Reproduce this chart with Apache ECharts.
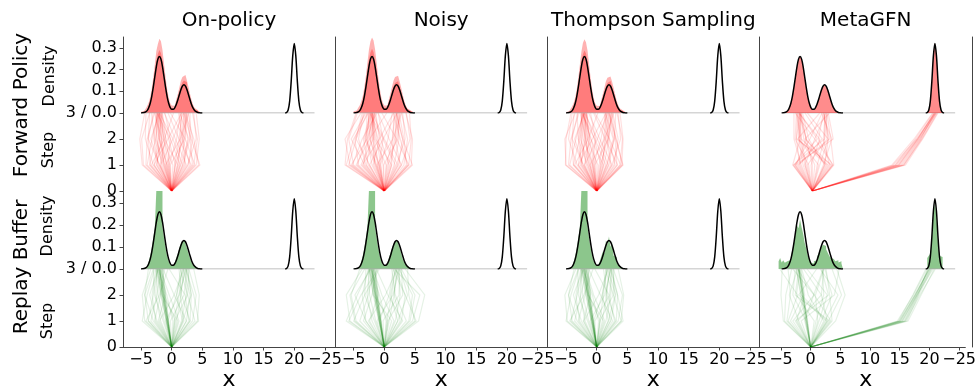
<!DOCTYPE html>
<html>
<head>
<meta charset="utf-8">
<script src="https://cdn.jsdelivr.net/npm/echarts@6/dist/echarts.min.js"></script>
<style>
  html, body { margin: 0; padding: 0; background: #fff; }
  #chart { width: 979px; height: 390px; }
</style>
</head>
<body>
<div id="chart"></div>
<script>
// ---- data ----
const methods = ["On-policy", "Noisy", "Thompson Sampling", "MetaGFN"];
const rowNames = ["Forward Policy", "Replay Buffer"];
const steps = [0, 1, 2, 3];
const startX = 0;
const xTicks = [-5, 0, 5, 10, 15, 20, 25];
const densityTicks = [0, 0.1, 0.2, 0.3];
const stepTicks = [0, 1, 2];

// target density (black curve), left modes
const gridX = [-5, -4.75, -4.5, -4.25, -4, -3.75, -3.5, -3.25, -3, -2.75, -2.5, -2.25, -2, -1.75, -1.5, -1.25, -1, -0.75, -0.5, -0.25,
  0, 0.25, 0.5, 0.75, 1, 1.25, 1.5, 1.75, 2, 2.25, 2.5, 2.75, 3, 3.25, 3.5, 3.75, 4, 4.25, 4.5, 4.75, 5];
const curveY = [0.000, 0.001, 0.002, 0.005, 0.011, 0.024, 0.045, 0.077, 0.119, 0.167, 0.214, 0.248, 0.260, 0.248, 0.214, 0.167, 0.119, 0.077, 0.046, 0.026,
  0.017, 0.017, 0.024, 0.039, 0.060, 0.084, 0.107, 0.124, 0.130, 0.124, 0.107, 0.084, 0.060, 0.038, 0.022, 0.012, 0.006, 0.0025, 0.001, 0.0004, 0.0001];
// target density, right mode
const peakX = [18.5, 18.75, 19, 19.25, 19.5, 19.75, 20, 20.25, 20.5, 20.75, 21, 21.25, 21.5];
const peakY = [0.0003, 0.0024, 0.014, 0.055, 0.147, 0.263, 0.32, 0.263, 0.147, 0.055, 0.014, 0.0024, 0.0003];
const baseX = [-5, 23.3];

// forward-policy sample histograms (bins of 0.25 starting at gridX), core and upper envelope
const onPolicyCore = [0.003, 0.004, 0.007, 0.011, 0.019, 0.032, 0.055, 0.088, 0.135, 0.186, 0.238, 0.272, 0.29, 0.276, 0.24, 0.186, 0.134, 0.09, 0.054, 0.033,
  0.023, 0.023, 0.031, 0.047, 0.07, 0.096, 0.121, 0.14, 0.15, 0.142, 0.122, 0.096, 0.07, 0.046, 0.028, 0.017, 0.01, 0.005, 0.003, 0.001, 0];
const onPolicyEnv = [0.006, 0.009, 0.013, 0.02, 0.032, 0.048, 0.074, 0.112, 0.165, 0.225, 0.285, 0.318, 0.342, 0.33, 0.29, 0.228, 0.166, 0.112, 0.072, 0.046,
  0.034, 0.033, 0.042, 0.062, 0.088, 0.118, 0.148, 0.166, 0.175, 0.168, 0.148, 0.12, 0.088, 0.06, 0.038, 0.023, 0.014, 0.008, 0.004, 0.002, 0];
const noisyCore = [0.004, 0.006, 0.009, 0.014, 0.022, 0.036, 0.058, 0.092, 0.14, 0.19, 0.244, 0.28, 0.296, 0.28, 0.242, 0.19, 0.138, 0.09, 0.056, 0.034,
  0.024, 0.024, 0.032, 0.048, 0.07, 0.096, 0.12, 0.138, 0.146, 0.138, 0.12, 0.094, 0.068, 0.045, 0.028, 0.017, 0.01, 0.006, 0.003, 0.001, 0];
const noisyEnv = [0.008, 0.011, 0.016, 0.024, 0.036, 0.054, 0.08, 0.12, 0.172, 0.232, 0.292, 0.33, 0.348, 0.334, 0.292, 0.232, 0.17, 0.116, 0.075, 0.048,
  0.035, 0.034, 0.043, 0.063, 0.09, 0.12, 0.148, 0.166, 0.172, 0.164, 0.146, 0.118, 0.086, 0.058, 0.036, 0.022, 0.013, 0.008, 0.004, 0.002, 0];
const thompsonCore = [0.002, 0.003, 0.006, 0.01, 0.018, 0.031, 0.054, 0.086, 0.132, 0.184, 0.236, 0.27, 0.288, 0.274, 0.238, 0.184, 0.132, 0.088, 0.053, 0.032,
  0.022, 0.022, 0.03, 0.046, 0.069, 0.095, 0.12, 0.138, 0.147, 0.14, 0.12, 0.095, 0.069, 0.045, 0.027, 0.016, 0.009, 0.005, 0.002, 0.001, 0];
const thompsonEnv = [0.005, 0.008, 0.012, 0.019, 0.031, 0.047, 0.073, 0.11, 0.163, 0.222, 0.282, 0.322, 0.34, 0.326, 0.288, 0.226, 0.164, 0.11, 0.07, 0.045,
  0.033, 0.032, 0.041, 0.061, 0.087, 0.116, 0.146, 0.162, 0.168, 0.162, 0.145, 0.118, 0.086, 0.058, 0.037, 0.022, 0.013, 0.007, 0.004, 0.002, 0];

// replay buffer histograms (same bins)
const onPolicyReplay = [0.001, 0.002, 0.004, 0.008, 0.017, 0.034, 0.06, 0.097, 0.142, 0.19, 0.36, 0.36, 0.36, 0.36, 0.19, 0.142, 0.097, 0.06, 0.035, 0.02,
  0.016, 0.02, 0.03, 0.05, 0.072, 0.096, 0.115, 0.127, 0.127, 0.115, 0.095, 0.07, 0.048, 0.029, 0.017, 0.009, 0.004, 0.002, 0.001, 0, 0];
const noisyReplay = [0.001, 0.002, 0.004, 0.009, 0.018, 0.034, 0.06, 0.096, 0.14, 0.19, 0.36, 0.36, 0.36, 0.36, 0.19, 0.14, 0.096, 0.06, 0.036, 0.021,
  0.016, 0.02, 0.03, 0.05, 0.072, 0.095, 0.114, 0.126, 0.128, 0.116, 0.096, 0.07, 0.047, 0.029, 0.017, 0.009, 0.004, 0.002, 0.001, 0, 0];
const thompsonReplay = [0.001, 0.002, 0.004, 0.008, 0.017, 0.034, 0.06, 0.097, 0.142, 0.19, 0.36, 0.36, 0.36, 0.36, 0.19, 0.142, 0.097, 0.06, 0.035, 0.02,
  0.016, 0.024, 0.036, 0.058, 0.08, 0.07, 0.13, 0.112, 0.148, 0.1, 0.124, 0.06, 0.055, 0.028, 0.018, 0.009, 0.004, 0.002, 0.001, 0, 0];
const metaReplayX = [-5.5, -5.25, -5, -4.75, -4.5, -4.25, -4, -3.75, -3.5, -3.25, -3, -2.75, -2.5, -2.25, -2, -1.75, -1.5, -1.25, -1, -0.75, -0.5, -0.25,
  0, 0.25, 0.5, 0.75, 1, 1.25, 1.5, 1.75, 2, 2.25, 2.5, 2.75, 3, 3.25, 3.5, 3.75, 4, 4.25, 4.5, 4.75, 5];
const metaReplayY = [0.035, 0.05, 0.03, 0.04, 0.028, 0.036, 0.045, 0.04, 0.06, 0.09, 0.12, 0.16, 0.2, 0.185, 0.225, 0.19, 0.16, 0.12, 0.095, 0.06, 0.045, 0.03,
  0.025, 0.035, 0.04, 0.055, 0.07, 0.09, 0.1, 0.11, 0.105, 0.09, 0.075, 0.06, 0.05, 0.045, 0.04, 0.035, 0.04, 0.03, 0.035, 0.025, 0];
const metaReplayRX = [18.75, 19, 19.25, 19.5, 19.75, 20, 20.25, 20.5, 20.75, 21, 21.25];
const metaReplayRY = [0.05, 0.06, 0.07, 0.14, 0.26, 0.3, 0.24, 0.12, 0.06, 0.055, 0];

// trajectories: x at steps 1, 2, 3 (all start at x = 0, step 0)
const onPolicyFwd = [
  [-0.8, -1.6, -2.0], [-1.2, -2.0, -2.3], [-0.5, -1.3, -1.8], [-1.6, -2.4, -2.6], [-2.2, -2.9, -2.4], [-2.8, -2.2, -1.9],
  [-3.5, -3.8, -3.0], [-4.6, -4.9, -3.6], [-4.0, -3.2, -2.2], [-3.0, -4.3, -4.2], [-1.9, -1.0, -1.5], [-0.3, -0.9, -2.1],
  [0.6, -0.5, -1.7], [1.4, -0.2, -2.4], [2.4, 0.6, -1.2], [3.2, 1.2, -0.6], [-1.4, -2.8, -3.3], [-2.5, -1.6, -2.8],
  [0.9, 1.6, 2.0], [0.5, 1.2, 1.7], [1.3, 2.2, 2.3], [2.0, 2.6, 1.9], [2.7, 3.4, 2.7], [3.6, 4.2, 3.4],
  [4.4, 3.6, 2.2], [-0.4, 0.8, 1.4], [-1.8, 0.2, 1.9], [1.8, 3.0, 3.0], [3.0, 1.8, 1.1], [-0.2, 2.1, 2.6],
  [-3.3, -1.2, 0.3], [4.0, 4.5, 4.0], [-2.0, -3.4, -2.0], [1.0, -1.2, -2.2],
  [-0.9, -1.9, -2.2], [-1.3, -1.7, -1.9], [-0.7, -2.1, -2.5], [-2.4, -2.0, -1.6], [-1.1, -2.6, -2.0], [-3.6, -2.6, -2.3],
  [-4.2, -4.0, -2.8], [-2.0, -3.8, -3.6], [0.2, -1.4, -1.6], [1.8, 0.2, -2.0], [-0.6, -0.2, -1.1], [3.8, 2.2, -0.2],
  [0.6, 1.9, 2.4], [1.1, 1.4, 1.6], [2.2, 1.8, 2.1], [3.4, 3.0, 2.4], [-1.0, 1.4, 2.8], [2.6, 4.0, 3.6],
  [-2.9, -0.6, 1.6], [4.6, 3.2, 2.0], [1.5, 2.8, 1.3], [-4.8, -5.2, -4.4]
];
const noisyFwd = [
  [-0.9, -1.7, -2.0], [-1.4, -2.2, -2.3], [-0.6, -1.2, -1.9], [-2.0, -2.8, -2.5], [-2.6, -3.4, -2.2], [-3.4, -2.6, -1.8],
  [-4.2, -4.8, -3.2], [-5.6, -6.4, -3.8], [-6.2, -5.0, -2.6], [-5.0, -5.8, -4.4], [-3.0, -4.2, -3.4], [-1.8, -0.8, -1.4],
  [-0.2, -1.0, -2.2], [0.8, -0.6, -1.6], [1.8, -0.2, -2.4], [2.8, 0.8, -1.0], [-1.2, -3.0, -2.8], [-3.8, -1.8, -2.0],
  [1.0, 1.7, 2.0], [0.4, 1.3, 1.8], [1.6, 2.4, 2.2], [2.3, 3.0, 1.9], [3.2, 3.8, 2.8], [4.4, 4.6, 3.5],
  [3.8, 2.6, 1.5], [-0.6, 0.6, 1.3], [-2.4, -0.2, 2.1], [2.0, 3.4, 3.0], [-4.6, -2.4, 0.4], [-0.1, 2.2, 2.6],
  [-5.2, -3.6, -1.2], [4.0, 4.4, 4.1], [1.2, -1.4, -2.1], [-3.2, -5.4, -3.0],
  [-1.0, -1.9, -2.2], [-1.6, -1.8, -1.9], [-0.8, -2.4, -2.6], [-2.9, -2.2, -1.6], [-1.4, -3.2, -2.0], [-4.4, -3.0, -2.4],
  [-5.8, -4.6, -2.8], [-2.4, -4.6, -3.6], [0.3, -1.6, -1.7], [2.2, 0.0, -2.0], [-0.8, -0.2, -1.0], [4.0, 2.0, -0.4],
  [0.6, 2.0, 2.4], [1.2, 1.4, 1.6], [2.6, 1.8, 2.1], [3.6, 3.2, 2.4], [-1.2, 1.4, 2.8], [2.8, 4.2, 3.6],
  [-3.6, -0.8, 1.5], [4.6, 3.0, 2.0], [-6.4, -6.0, -4.6], [-5.4, -2.8, -1.5]
];
const thompsonFwd = [
  [-0.7, -1.5, -2.0], [-1.1, -1.9, -2.2], [-0.4, -1.2, -1.7], [-1.7, -2.5, -2.5], [-2.4, -3.0, -2.3], [-3.0, -2.4, -1.9],
  [-3.8, -4.0, -3.1], [-5.0, -5.2, -3.5], [-4.4, -3.4, -2.1], [-3.2, -4.6, -4.0], [-2.0, -1.2, -1.6], [-0.1, -0.9, -2.2],
  [0.7, -0.4, -1.8], [1.5, -0.3, -2.5], [2.5, 0.5, -1.3], [3.4, 1.4, -0.5], [-1.5, -3.0, -3.2], [-2.7, -1.8, -2.7],
  [0.8, 1.5, 1.9], [0.4, 1.1, 1.6], [1.2, 2.0, 2.4], [2.0, 2.8, 2.0], [2.8, 3.5, 2.6], [3.8, 4.2, 3.3],
  [4.2, 3.2, 2.1], [-0.5, 0.7, 1.5], [-2.0, 0.1, 1.8], [1.7, 2.9, 3.1], [3.0, 2.0, 1.2], [-0.3, 1.9, 2.5],
  [-3.6, -1.4, 0.2], [4.1, 4.3, 3.8], [-2.2, -3.6, -2.0], [1.1, -1.0, -2.3],
  [-0.9, -1.8, -2.1], [-1.4, -1.7, -1.9], [-0.6, -2.2, -2.4], [-2.5, -2.0, -1.7], [-1.2, -2.7, -2.1], [-3.8, -2.8, -2.4],
  [-4.6, -4.2, -2.9], [-2.2, -4.0, -3.7], [0.2, -1.5, -1.6], [1.9, 0.1, -2.0], [-0.7, -0.2, -1.0], [3.9, 2.1, -0.3],
  [0.6, 1.8, 2.3], [1.0, 1.3, 1.7], [2.3, 1.7, 2.0], [3.3, 3.0, 2.5], [-1.1, 1.3, 2.8], [2.5, 3.9, 3.5],
  [-3.0, -0.7, 1.5], [4.3, 3.1, 2.0], [1.6, 2.7, 1.4], [-5.1, -5.0, -4.2]
];
const metaFwd = [
  [-1.0, -1.8, -2.0], [-1.5, -2.2, -2.3], [-2.6, -1.0, -1.8], [-3.0, 0.8, -2.1], [2.6, -1.8, -2.4], [3.2, -2.6, -2.0],
  [2.0, -0.6, -1.6], [-0.6, -2.8, -2.6], [-2.2, 1.6, -1.2], [1.2, 2.6, -0.8], [3.4, 0.4, -2.8], [-1.8, -3.0, -3.0],
  [0.4, -1.4, -1.9], [-3.2, -2.0, -2.6], [2.8, 1.8, 2.1], [3.5, 3.0, 2.4], [-2.4, 2.8, 1.8], [-1.2, 0.4, 2.2],
  [0.8, 2.0, 2.0], [1.8, 3.2, 1.5], [-2.8, 3.4, 2.6], [2.4, -2.4, 1.2], [3.0, -1.2, 2.8], [-0.2, 1.2, -2.2],
  [-1.2, -2.0, -2.1], [2.2, -1.0, -2.2], [-2.8, -0.4, 1.6], [1.0, -2.2, -1.8], [-0.8, 2.4, 2.3], [3.3, 1.0, 1.8],
  [-2.0, -2.6, -2.4], [0.0, -1.0, -2.0], [2.0, 2.6, 1.9], [-3.1, 2.0, 2.4],
  [13.2, 17.0, 20.0], [13.8, 17.2, 19.8], [14.2, 17.4, 20.2], [14.6, 17.6, 20.1], [15.0, 17.8, 20.3],
  [13.5, 16.8, 19.7], [14.9, 17.9, 20.4], [14.0, 17.3, 19.9], [13.6, 17.1, 20.0], [14.4, 17.5, 20.2],
  [14.8, 17.7, 19.9], [13.0, 16.6, 19.6], [15.2, 18.0, 20.5], [14.1, 17.2, 20.1]
];
const onPolicyBuf = [
  [-0.7, -1.3, -2.0], [-0.6, -1.4, -2.0], [-0.7, -1.4, -2.1], [-0.8, -1.5, -1.9], [-0.6, -1.3, -1.9], [-0.8, -1.4, -2.1],
  [-0.5, -1.2, -1.8], [-0.9, -1.6, -2.2], [-1.8, -2.6, -2.4], [-2.6, -3.2, -2.6], [-3.4, -2.4, -1.7], [-4.4, -4.8, -3.4],
  [-3.8, -3.0, -2.3], [-2.2, -1.0, -1.5], [0.2, -0.8, -2.2], [1.2, -0.4, -1.9], [2.4, 0.4, -1.4], [-1.4, -2.8, -3.0],
  [0.8, 1.5, 2.0], [0.4, 1.2, 1.7], [1.6, 2.4, 2.3], [2.4, 3.0, 1.9], [3.4, 4.0, 2.8], [4.4, 3.6, 2.3],
  [-0.6, 0.8, 1.5], [-2.0, 0.4, 2.0], [1.8, 3.2, 2.6], [3.0, 1.6, 1.2], [-0.2, 2.0, 2.5], [-4.8, -4.0, -2.8],
  [4.2, 4.5, 3.6], [1.0, -1.6, -2.4], [-3.0, -4.4, -3.8], [2.8, 2.2, -0.4],
  [-0.6, -1.2, -1.6], [-0.9, -1.8, -2.5], [-0.8, -1.7, -2.4], [-0.5, -1.0, -1.5], [-0.7, -1.5, -2.3], [-0.6, -1.1, -1.7],
  [-1.2, -2.2, -2.6], [-2.8, -1.8, -1.2], [-3.8, -4.4, -3.0], [0.6, -1.2, -2.0], [1.8, 0.8, 1.8], [2.0, 1.4, 2.2],
  [3.0, 3.2, 2.4], [-1.0, 1.2, 2.4], [-4.2, -2.0, -0.6], [3.8, 2.6, 1.4], [0.5, 2.6, 2.8], [-2.4, -3.6, -2.2]
];
const noisyBuf = [
  [-0.7, -1.3, -2.0], [-0.6, -1.4, -2.0], [-0.8, -1.5, -2.1], [-0.6, -1.2, -1.9], [-0.8, -1.4, -1.9], [-0.7, -1.5, -2.2],
  [-0.5, -1.3, -1.8], [-0.9, -1.6, -2.1], [-2.0, -2.8, -2.4], [-3.0, -3.6, -2.6], [-4.0, -2.6, -1.7], [-5.6, -6.2, -3.6],
  [-6.2, -4.4, -2.4], [-4.6, -5.4, -4.0], [-2.4, -1.0, -1.5], [0.3, -0.8, -2.2], [1.6, -0.4, -1.8], [3.0, 0.6, -1.3],
  [-1.6, -3.2, -3.0], [0.8, 1.6, 2.0], [0.4, 1.2, 1.8], [1.8, 2.6, 2.3], [2.8, 3.4, 1.9], [4.2, 5.0, 2.8],
  [5.6, 6.6, 3.4], [-0.8, 0.8, 1.5], [-2.6, 0.2, 2.1], [2.2, 3.8, 2.6], [3.6, 1.8, 1.2], [-0.2, 2.4, 2.5],
  [-5.0, -3.2, -0.8], [5.0, 4.0, 3.8], [1.2, -1.8, -2.4], [4.6, 5.8, 1.6],
  [-0.6, -1.2, -1.6], [-0.9, -1.8, -2.5], [-0.8, -1.7, -2.4], [-0.5, -1.0, -1.5], [-0.7, -1.5, -2.3], [-0.6, -1.1, -1.7],
  [-1.4, -2.4, -2.6], [-3.4, -2.0, -1.2], [-4.8, -5.6, -3.2], [0.6, -1.4, -2.0], [2.2, 1.0, 1.8], [2.6, 1.6, 2.2],
  [4.0, 4.6, 2.4], [-1.2, 1.4, 2.4], [-5.8, -3.8, -1.0], [5.2, 3.4, 1.4], [0.6, 3.0, 2.8], [-3.0, -4.8, -2.2]
];
const thompsonBuf = [
  [-0.7, -1.3, -2.0], [-0.6, -1.4, -2.0], [-0.8, -1.5, -2.1], [-0.6, -1.2, -1.9], [-0.8, -1.4, -1.9], [-0.7, -1.5, -2.2],
  [-0.5, -1.3, -1.8], [-0.9, -1.6, -2.1], [-1.9, -2.7, -2.5], [-2.8, -3.4, -2.6], [-3.6, -2.6, -1.6], [-4.8, -5.2, -3.4],
  [-4.2, -3.2, -2.2], [-2.2, -1.0, -1.4], [0.3, -0.7, -2.3], [1.3, -0.5, -1.8], [2.6, 0.6, -1.3], [-1.5, -3.0, -3.1],
  [0.9, 1.6, 2.1], [0.5, 1.1, 1.6], [1.5, 2.3, 2.4], [2.3, 3.1, 1.8], [3.5, 4.2, 2.7], [4.3, 3.4, 2.2],
  [-0.5, 0.9, 1.6], [-2.1, 0.3, 1.9], [1.9, 3.0, 2.6], [3.1, 1.7, 1.1], [-0.3, 2.1, 2.4], [-5.0, -4.2, -2.9],
  [4.0, 4.4, 3.5], [1.1, -1.4, -2.5], [-3.2, -4.6, -3.7], [2.9, 2.0, -0.3],
  [-0.6, -1.2, -1.6], [-0.9, -1.8, -2.5], [-0.8, -1.7, -2.4], [-0.5, -1.0, -1.5], [-0.7, -1.5, -2.3], [-0.6, -1.1, -1.7],
  [-1.3, -2.3, -2.6], [-3.0, -1.9, -1.2], [-4.0, -4.6, -3.0], [0.6, -1.3, -2.0], [1.9, 0.9, 1.8], [2.2, 1.5, 2.2],
  [3.2, 3.4, 2.4], [-1.1, 1.3, 2.3], [-4.4, -2.1, -0.6], [4.0, 2.7, 1.4], [0.5, 2.7, 2.8], [-2.5, -3.8, -2.2]
];
const metaBuf = [
  [-0.7, -1.3, -2.0], [-0.6, -1.4, -2.0], [-0.8, -1.5, -2.1], [-0.6, -1.2, -1.9], [-0.7, -1.4, -1.9], [-0.5, -1.3, -2.1],
  [-2.4, -1.0, -1.8], [-3.0, 0.6, -2.2], [2.8, -1.6, -2.4], [3.2, -2.6, -2.0], [2.2, -0.4, -1.5], [-0.8, -3.0, -2.6],
  [-2.2, 1.8, -1.2], [1.4, 2.8, -0.6], [3.4, 0.6, -3.0], [-4.6, -5.0, -4.8], [-3.8, -2.2, -5.2], [2.8, 1.8, 2.2],
  [3.6, 3.2, 2.6], [-2.6, 3.0, 1.8], [-1.0, 0.5, 2.1], [0.9, 2.2, 2.0], [4.2, 5.8, 4.4], [3.0, 5.2, 3.6],
  [-1.6, 4.0, 4.8], [2.6, -2.0, 1.0], [-4.0, -3.4, -3.8],
  [-0.6, -1.2, -1.6], [-0.9, -1.7, -2.4], [-2.0, -3.6, -2.2], [1.8, 3.6, 2.4], [-3.4, -1.2, -2.0], [0.6, -2.4, -1.8],
  [2.4, 4.6, 1.6], [-4.4, -4.2, -3.2], [1.2, 0.8, 2.2],
  [15.0, 17.6, 20.0], [15.4, 17.8, 19.8], [15.8, 18.0, 20.2], [16.2, 18.2, 20.4], [14.6, 17.3, 19.6],
  [15.6, 17.9, 20.6], [16.0, 18.4, 21.0], [14.8, 17.2, 19.4], [15.2, 17.7, 20.1],
  [15.4, 17.9, 20.3], [15.9, 18.1, 19.7], [14.9, 17.5, 20.0], [16.4, 18.6, 20.8], [15.1, 17.6, 19.9]
];

const fwdHist = [[onPolicyCore, onPolicyEnv], [noisyCore, noisyEnv], [thompsonCore, thompsonEnv], null];
const bufHist = [onPolicyReplay, noisyReplay, thompsonReplay, null];
const fwdTraj = [onPolicyFwd, noisyFwd, thompsonFwd, metaFwd];
const bufTraj = [onPolicyBuf, noisyBuf, thompsonBuf, metaBuf];

// ---- layout ----
const colLeft = [123, 335, 547.3, 759.3];
const colWidth = [212, 212.3, 212, 212.7];
const colMin = [-7.94, -8.04, -8.06, -8.65];
const pxPerUnit = 6.13;
const rowTop = [37, 113, 191, 269];
const rowHeight = [76, 78, 78, 78];
const font = '"DejaVu Sans"';
const spine = "#444";

const pairs = (xs, ys) => xs.map((x, i) => [x, ys[i]]);
const trajData = (list) => list.map((t) => ({
  coords: steps.map((s, i) => [i === 0 ? startX : t[i - 1], s])
}));

const grid = [], xAxis = [], yAxis = [], series = [];
for (let r = 0; r < 4; r++) {
  for (let c = 0; c < 4; c++) {
    const g = r * 4 + c;
    const isDensity = r % 2 === 0;
    grid.push({ left: colLeft[c], top: rowTop[r], width: colWidth[c], height: rowHeight[r] });
    xAxis.push({
      type: "value", gridIndex: g, min: colMin[c], max: colMin[c] + colWidth[c] / pxPerUnit,
      splitLine: { show: false },
      axisLine: { show: r === 3, onZero: false, lineStyle: { color: spine, width: 1 } },
      axisTick: { show: r === 3, length: 3.5, lineStyle: { color: spine }, customValues: xTicks },
      axisLabel: {
        show: r === 3, customValues: xTicks, fontSize: 16, fontFamily: font, color: "#000", margin: 5,
        formatter: (v) => v === 25 ? "\u221225" : (v < 0 ? "\u2212" + (-v) : String(v))
      }
    });
    yAxis.push({
      type: "value", gridIndex: g, min: 0,
      max: isDensity ? (r === 0 ? 0.35 : 0.355) : 3,
      splitLine: { show: false },
      axisLine: { show: true, onZero: false, lineStyle: { color: spine, width: 1 } },
      axisTick: { show: c === 0, length: 3.5, lineStyle: { color: spine }, customValues: isDensity ? densityTicks : stepTicks },
      axisLabel: {
        show: c === 0, customValues: isDensity ? densityTicks : stepTicks,
        fontSize: 16, fontFamily: font, color: "#000", margin: 6,
        formatter: (v) => isDensity ? (v === 0 ? "3 / 0.0" : v.toFixed(1)) : String(v)
      }
    });
  }
}
// right spine of the last column: one frame grid over the whole column
grid.push({ left: colLeft[3], top: rowTop[0], width: colWidth[3], height: rowTop[3] + rowHeight[3] - rowTop[0] });
xAxis.push({ type: "value", gridIndex: 16, show: false, min: 0, max: 1 });
yAxis.push({
  type: "value", gridIndex: 16, position: "right", min: 0, max: 1,
  splitLine: { show: false }, axisTick: { show: false }, axisLabel: { show: false },
  axisLine: { show: true, onZero: false, lineStyle: { color: spine, width: 1 } }
});

const base = { type: "line", symbol: "none", silent: true, animation: false };
const stepArea = (g, data, color) => ({
  ...base, xAxisIndex: g, yAxisIndex: g, step: "end", data,
  lineStyle: { width: 0 }, areaStyle: { color, opacity: 1 }, z: 1
});
const curveSeries = (g, fill) => [
  { ...base, xAxisIndex: g, yAxisIndex: g, data: pairs(baseX, [0, 0]), lineStyle: { color: "#aaa", width: 1 }, z: 3 },
  { ...base, xAxisIndex: g, yAxisIndex: g, data: pairs(gridX, curveY), smooth: 0.3,
    lineStyle: { color: "#000", width: 1.5 }, areaStyle: fill ? { color: fill, opacity: 1 } : undefined, z: 4 },
  { ...base, xAxisIndex: g, yAxisIndex: g, data: pairs(peakX, peakY), smooth: 0.3,
    lineStyle: { color: "#000", width: 1.5 }, areaStyle: fill ? { color: fill, opacity: 1 } : undefined, z: 4 }
];
const trajSeries = (g, list, color, opacity) => ({
  type: "lines", coordinateSystem: "cartesian2d", xAxisIndex: g, yAxisIndex: g, polyline: true,
  silent: true, animation: false, data: trajData(list),
  lineStyle: { color, opacity, width: 1.2 }, z: 2
});

for (let c = 0; c < 4; c++) {
  // forward policy density
  const g0 = c;
  if (fwdHist[c]) {
    series.push(stepArea(g0, pairs(gridX, fwdHist[c][1]), "rgba(255,0,0,0.3)"));
    series.push(stepArea(g0, pairs(gridX, fwdHist[c][0]), "rgba(255,0,0,0.3)"));
    series.push(...curveSeries(g0, null));
  } else {
    series.push(...curveSeries(g0, "rgba(255,0,0,0.45)"));
  }
  // forward policy trajectories
  series.push(trajSeries(4 + c, fwdTraj[c], "#ff0000", 0.12));
  // replay buffer density
  const g2 = 8 + c;
  if (bufHist[c]) {
    series.push(stepArea(g2, pairs(gridX, bufHist[c]), "rgba(0,128,0,0.45)"));
  } else {
    series.push(stepArea(g2, pairs(metaReplayX, metaReplayY), "rgba(0,128,0,0.45)"));
    series.push(stepArea(g2, pairs(metaReplayRX, metaReplayRY), "rgba(0,128,0,0.45)"));
  }
  series.push(...curveSeries(g2, null));
  // replay buffer trajectories
  series.push(trajSeries(12 + c, bufTraj[c], "#008000", 0.1));
}

const graphic = [];
methods.forEach((m, c) => {
  graphic.push({ type: "text", x: colLeft[c] + colWidth[c] / 2, y: 21,
    style: { text: m, font: "20px " + font, fill: "#000", textAlign: "center", textVerticalAlign: "middle" } });
  graphic.push({ type: "text", x: colLeft[c] + colWidth[c] / 2, y: 380,
    style: { text: "x", font: "22px " + font, fill: "#000", textAlign: "center", textVerticalAlign: "middle" } });
});
const sideLabels = [
  { text: rowNames[0], x: 22, y: 105, size: 20 },
  { text: rowNames[1], x: 22, y: 267, size: 20 },
  { text: "Density", x: 50, y: 76, size: 16 },
  { text: "Step", x: 49, y: 150, size: 16 },
  { text: "Density", x: 48, y: 226, size: 16 },
  { text: "Step", x: 48, y: 321, size: 16 }
];
sideLabels.forEach((l) => graphic.push({
  type: "text", x: l.x, y: l.y, rotation: Math.PI / 2,
  style: { text: l.text, font: l.size + "px " + font, fill: "#000", textAlign: "center", textVerticalAlign: "middle" }
}));

const chart = echarts.init(document.getElementById("chart"), null, { renderer: "canvas" });
chart.setOption({ animation: false, backgroundColor: "#fff", grid, xAxis, yAxis, series, graphic });
</script>
</body>
</html>
